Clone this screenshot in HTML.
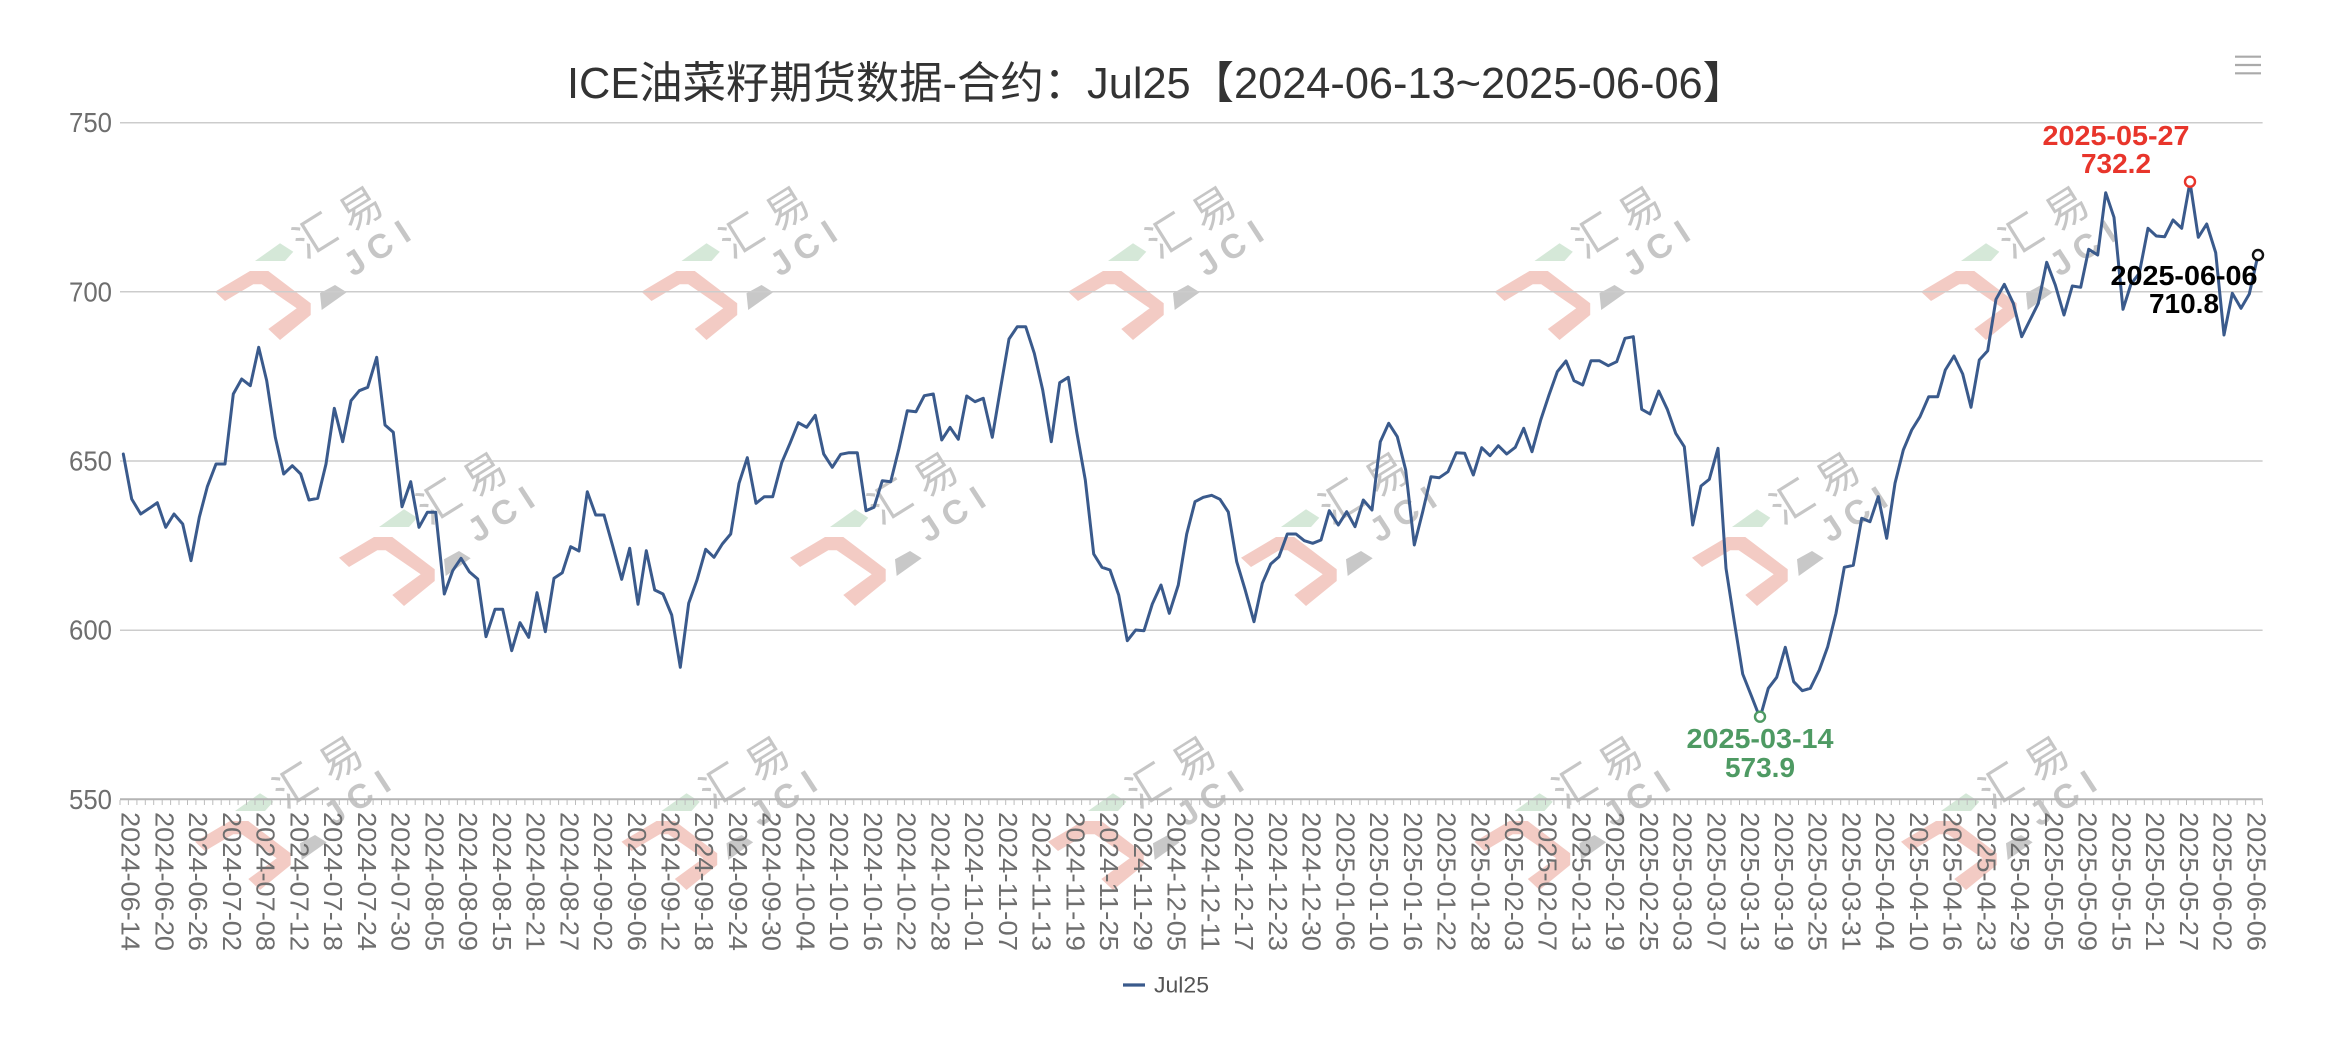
<!DOCTYPE html>
<html>
<head>
<meta charset="utf-8">
<style>
html,body{margin:0;padding:0;background:#fff;}
svg{display:block;}
.wm{font-family:"Liberation Sans","Noto Sans CJK SC",sans-serif;font-size:42px;fill:#c6c6c6;text-anchor:middle;dominant-baseline:central;}
.wj{font-family:"Liberation Sans",sans-serif;font-size:34px;font-weight:bold;fill:#c6c6c6;text-anchor:middle;dominant-baseline:central;}
.xl{font-family:"Liberation Sans",sans-serif;font-size:26px;fill:#6e6e6e;dominant-baseline:central;}
.yl{font-family:"Liberation Sans",sans-serif;font-size:28px;fill:#6e6e6e;text-anchor:end;dominant-baseline:central;}
.an{font-family:"Liberation Sans",sans-serif;font-size:28px;font-weight:bold;text-anchor:middle;}
</style>
</head>
<body>
<svg width="2344" height="1048" viewBox="0 0 2344 1048" xmlns="http://www.w3.org/2000/svg">
<rect x="0" y="0" width="2344" height="1048" fill="#ffffff"/>

<!-- watermarks -->
<g transform="translate(0,0)">
<polygon points="255,261 280,243.3 293.3,251.7 285,261" fill="#d5e8d8"/>
<polygon points="215,291.7 250,271 268.3,271 310.7,303.3 310.7,315 280,340 268.3,329 296.7,308.3 261.7,284.3 253.3,284.3 225,301" fill="#f3cbc4"/>
<polygon points="320,293.3 335,285 346.7,292.3 321.7,310" fill="#c8c8c8"/>
<text x="315" y="236" transform="rotate(-32 315 236)" class="wm">汇</text>
<text x="361" y="209" transform="rotate(-32 361 209)" class="wm">易</text>
<text x="355" y="263" transform="rotate(-33 355 263)" class="wj">J</text>
<text x="380" y="247" transform="rotate(-33 380 247)" class="wj">C</text>
<text x="403" y="232" transform="rotate(-33 403 232)" class="wj">I</text>
</g>
<g transform="translate(426.5,0)">
<polygon points="255,261 280,243.3 293.3,251.7 285,261" fill="#d5e8d8"/>
<polygon points="215,291.7 250,271 268.3,271 310.7,303.3 310.7,315 280,340 268.3,329 296.7,308.3 261.7,284.3 253.3,284.3 225,301" fill="#f3cbc4"/>
<polygon points="320,293.3 335,285 346.7,292.3 321.7,310" fill="#c8c8c8"/>
<text x="315" y="236" transform="rotate(-32 315 236)" class="wm">汇</text>
<text x="361" y="209" transform="rotate(-32 361 209)" class="wm">易</text>
<text x="355" y="263" transform="rotate(-33 355 263)" class="wj">J</text>
<text x="380" y="247" transform="rotate(-33 380 247)" class="wj">C</text>
<text x="403" y="232" transform="rotate(-33 403 232)" class="wj">I</text>
</g>
<g transform="translate(853,0)">
<polygon points="255,261 280,243.3 293.3,251.7 285,261" fill="#d5e8d8"/>
<polygon points="215,291.7 250,271 268.3,271 310.7,303.3 310.7,315 280,340 268.3,329 296.7,308.3 261.7,284.3 253.3,284.3 225,301" fill="#f3cbc4"/>
<polygon points="320,293.3 335,285 346.7,292.3 321.7,310" fill="#c8c8c8"/>
<text x="315" y="236" transform="rotate(-32 315 236)" class="wm">汇</text>
<text x="361" y="209" transform="rotate(-32 361 209)" class="wm">易</text>
<text x="355" y="263" transform="rotate(-33 355 263)" class="wj">J</text>
<text x="380" y="247" transform="rotate(-33 380 247)" class="wj">C</text>
<text x="403" y="232" transform="rotate(-33 403 232)" class="wj">I</text>
</g>
<g transform="translate(1279.5,0)">
<polygon points="255,261 280,243.3 293.3,251.7 285,261" fill="#d5e8d8"/>
<polygon points="215,291.7 250,271 268.3,271 310.7,303.3 310.7,315 280,340 268.3,329 296.7,308.3 261.7,284.3 253.3,284.3 225,301" fill="#f3cbc4"/>
<polygon points="320,293.3 335,285 346.7,292.3 321.7,310" fill="#c8c8c8"/>
<text x="315" y="236" transform="rotate(-32 315 236)" class="wm">汇</text>
<text x="361" y="209" transform="rotate(-32 361 209)" class="wm">易</text>
<text x="355" y="263" transform="rotate(-33 355 263)" class="wj">J</text>
<text x="380" y="247" transform="rotate(-33 380 247)" class="wj">C</text>
<text x="403" y="232" transform="rotate(-33 403 232)" class="wj">I</text>
</g>
<g transform="translate(1706,0)">
<polygon points="255,261 280,243.3 293.3,251.7 285,261" fill="#d5e8d8"/>
<polygon points="215,291.7 250,271 268.3,271 310.7,303.3 310.7,315 280,340 268.3,329 296.7,308.3 261.7,284.3 253.3,284.3 225,301" fill="#f3cbc4"/>
<polygon points="320,293.3 335,285 346.7,292.3 321.7,310" fill="#c8c8c8"/>
<text x="315" y="236" transform="rotate(-32 315 236)" class="wm">汇</text>
<text x="361" y="209" transform="rotate(-32 361 209)" class="wm">易</text>
<text x="355" y="263" transform="rotate(-33 355 263)" class="wj">J</text>
<text x="380" y="247" transform="rotate(-33 380 247)" class="wj">C</text>
<text x="403" y="232" transform="rotate(-33 403 232)" class="wj">I</text>
</g>
<!-- row 2 -->
<g transform="translate(124,266)">
<polygon points="255,261 280,243.3 293.3,251.7 285,261" fill="#d5e8d8"/>
<polygon points="215,291.7 250,271 268.3,271 310.7,303.3 310.7,315 280,340 268.3,329 296.7,308.3 261.7,284.3 253.3,284.3 225,301" fill="#f3cbc4"/>
<polygon points="320,293.3 335,285 346.7,292.3 321.7,310" fill="#c8c8c8"/>
<text x="315" y="236" transform="rotate(-32 315 236)" class="wm">汇</text>
<text x="361" y="209" transform="rotate(-32 361 209)" class="wm">易</text>
<text x="355" y="263" transform="rotate(-33 355 263)" class="wj">J</text>
<text x="380" y="247" transform="rotate(-33 380 247)" class="wj">C</text>
<text x="403" y="232" transform="rotate(-33 403 232)" class="wj">I</text>
</g>
<g transform="translate(575,266)">
<polygon points="255,261 280,243.3 293.3,251.7 285,261" fill="#d5e8d8"/>
<polygon points="215,291.7 250,271 268.3,271 310.7,303.3 310.7,315 280,340 268.3,329 296.7,308.3 261.7,284.3 253.3,284.3 225,301" fill="#f3cbc4"/>
<polygon points="320,293.3 335,285 346.7,292.3 321.7,310" fill="#c8c8c8"/>
<text x="315" y="236" transform="rotate(-32 315 236)" class="wm">汇</text>
<text x="361" y="209" transform="rotate(-32 361 209)" class="wm">易</text>
<text x="355" y="263" transform="rotate(-33 355 263)" class="wj">J</text>
<text x="380" y="247" transform="rotate(-33 380 247)" class="wj">C</text>
<text x="403" y="232" transform="rotate(-33 403 232)" class="wj">I</text>
</g>
<g transform="translate(1026,266)">
<polygon points="255,261 280,243.3 293.3,251.7 285,261" fill="#d5e8d8"/>
<polygon points="215,291.7 250,271 268.3,271 310.7,303.3 310.7,315 280,340 268.3,329 296.7,308.3 261.7,284.3 253.3,284.3 225,301" fill="#f3cbc4"/>
<polygon points="320,293.3 335,285 346.7,292.3 321.7,310" fill="#c8c8c8"/>
<text x="315" y="236" transform="rotate(-32 315 236)" class="wm">汇</text>
<text x="361" y="209" transform="rotate(-32 361 209)" class="wm">易</text>
<text x="355" y="263" transform="rotate(-33 355 263)" class="wj">J</text>
<text x="380" y="247" transform="rotate(-33 380 247)" class="wj">C</text>
<text x="403" y="232" transform="rotate(-33 403 232)" class="wj">I</text>
</g>
<g transform="translate(1477,266)">
<polygon points="255,261 280,243.3 293.3,251.7 285,261" fill="#d5e8d8"/>
<polygon points="215,291.7 250,271 268.3,271 310.7,303.3 310.7,315 280,340 268.3,329 296.7,308.3 261.7,284.3 253.3,284.3 225,301" fill="#f3cbc4"/>
<polygon points="320,293.3 335,285 346.7,292.3 321.7,310" fill="#c8c8c8"/>
<text x="315" y="236" transform="rotate(-32 315 236)" class="wm">汇</text>
<text x="361" y="209" transform="rotate(-32 361 209)" class="wm">易</text>
<text x="355" y="263" transform="rotate(-33 355 263)" class="wj">J</text>
<text x="380" y="247" transform="rotate(-33 380 247)" class="wj">C</text>
<text x="403" y="232" transform="rotate(-33 403 232)" class="wj">I</text>
</g>
<!-- row 3 -->
<g transform="translate(-20,550)">
<polygon points="255,261 280,243.3 293.3,251.7 285,261" fill="#d5e8d8"/>
<polygon points="215,291.7 250,271 268.3,271 310.7,303.3 310.7,315 280,340 268.3,329 296.7,308.3 261.7,284.3 253.3,284.3 225,301" fill="#f3cbc4"/>
<polygon points="320,293.3 335,285 346.7,292.3 321.7,310" fill="#c8c8c8"/>
<text x="315" y="236" transform="rotate(-32 315 236)" class="wm">汇</text>
<text x="361" y="209" transform="rotate(-32 361 209)" class="wm">易</text>
<text x="355" y="263" transform="rotate(-33 355 263)" class="wj">J</text>
<text x="380" y="247" transform="rotate(-33 380 247)" class="wj">C</text>
<text x="403" y="232" transform="rotate(-33 403 232)" class="wj">I</text>
</g>
<g transform="translate(406.5,550)">
<polygon points="255,261 280,243.3 293.3,251.7 285,261" fill="#d5e8d8"/>
<polygon points="215,291.7 250,271 268.3,271 310.7,303.3 310.7,315 280,340 268.3,329 296.7,308.3 261.7,284.3 253.3,284.3 225,301" fill="#f3cbc4"/>
<polygon points="320,293.3 335,285 346.7,292.3 321.7,310" fill="#c8c8c8"/>
<text x="315" y="236" transform="rotate(-32 315 236)" class="wm">汇</text>
<text x="361" y="209" transform="rotate(-32 361 209)" class="wm">易</text>
<text x="355" y="263" transform="rotate(-33 355 263)" class="wj">J</text>
<text x="380" y="247" transform="rotate(-33 380 247)" class="wj">C</text>
<text x="403" y="232" transform="rotate(-33 403 232)" class="wj">I</text>
</g>
<g transform="translate(833,550)">
<polygon points="255,261 280,243.3 293.3,251.7 285,261" fill="#d5e8d8"/>
<polygon points="215,291.7 250,271 268.3,271 310.7,303.3 310.7,315 280,340 268.3,329 296.7,308.3 261.7,284.3 253.3,284.3 225,301" fill="#f3cbc4"/>
<polygon points="320,293.3 335,285 346.7,292.3 321.7,310" fill="#c8c8c8"/>
<text x="315" y="236" transform="rotate(-32 315 236)" class="wm">汇</text>
<text x="361" y="209" transform="rotate(-32 361 209)" class="wm">易</text>
<text x="355" y="263" transform="rotate(-33 355 263)" class="wj">J</text>
<text x="380" y="247" transform="rotate(-33 380 247)" class="wj">C</text>
<text x="403" y="232" transform="rotate(-33 403 232)" class="wj">I</text>
</g>
<g transform="translate(1259.5,550)">
<polygon points="255,261 280,243.3 293.3,251.7 285,261" fill="#d5e8d8"/>
<polygon points="215,291.7 250,271 268.3,271 310.7,303.3 310.7,315 280,340 268.3,329 296.7,308.3 261.7,284.3 253.3,284.3 225,301" fill="#f3cbc4"/>
<polygon points="320,293.3 335,285 346.7,292.3 321.7,310" fill="#c8c8c8"/>
<text x="315" y="236" transform="rotate(-32 315 236)" class="wm">汇</text>
<text x="361" y="209" transform="rotate(-32 361 209)" class="wm">易</text>
<text x="355" y="263" transform="rotate(-33 355 263)" class="wj">J</text>
<text x="380" y="247" transform="rotate(-33 380 247)" class="wj">C</text>
<text x="403" y="232" transform="rotate(-33 403 232)" class="wj">I</text>
</g>
<g transform="translate(1686,550)">
<polygon points="255,261 280,243.3 293.3,251.7 285,261" fill="#d5e8d8"/>
<polygon points="215,291.7 250,271 268.3,271 310.7,303.3 310.7,315 280,340 268.3,329 296.7,308.3 261.7,284.3 253.3,284.3 225,301" fill="#f3cbc4"/>
<polygon points="320,293.3 335,285 346.7,292.3 321.7,310" fill="#c8c8c8"/>
<text x="315" y="236" transform="rotate(-32 315 236)" class="wm">汇</text>
<text x="361" y="209" transform="rotate(-32 361 209)" class="wm">易</text>
<text x="355" y="263" transform="rotate(-33 355 263)" class="wj">J</text>
<text x="380" y="247" transform="rotate(-33 380 247)" class="wj">C</text>
<text x="403" y="232" transform="rotate(-33 403 232)" class="wj">I</text>
</g>

<!-- grid lines -->
<g stroke="#cccccc" stroke-width="1.5">
<line x1="120" y1="122.7" x2="2262.6" y2="122.7"/>
<line x1="120" y1="291.8" x2="2262.6" y2="291.8"/>
<line x1="120" y1="461" x2="2262.6" y2="461"/>
<line x1="120" y1="630.2" x2="2262.6" y2="630.2"/>
</g>
<!-- x axis -->
<line x1="120" y1="799.3" x2="2262.6" y2="799.3" stroke="#b4b4b4" stroke-width="2"/>
<path stroke="#bdbdbd" stroke-width="1" fill="none" d="M120,800v5M128.4,800v5M136.9,800v5M145.3,800v5M153.7,800v5M162.2,800v5M170.6,800v5M179,800v5M187.5,800v5M195.9,800v5M204.4,800v5M212.8,800v5M221.2,800v5M229.7,800v5M238.1,800v5M246.5,800v5M255,800v5M263.4,800v5M271.8,800v5M280.3,800v5M288.7,800v5M297.1,800v5M305.6,800v5M314,800v5M322.4,800v5M330.9,800v5M339.3,800v5M347.7,800v5M356.2,800v5M364.6,800v5M373.1,800v5M381.5,800v5M389.9,800v5M398.4,800v5M406.8,800v5M415.2,800v5M423.7,800v5M432.1,800v5M440.5,800v5M449,800v5M457.4,800v5M465.8,800v5M474.3,800v5M482.7,800v5M491.1,800v5M499.6,800v5M508,800v5M516.4,800v5M524.9,800v5M533.3,800v5M541.7,800v5M550.2,800v5M558.6,800v5M567.1,800v5M575.5,800v5M583.9,800v5M592.4,800v5M600.8,800v5M609.2,800v5M617.7,800v5M626.1,800v5M634.5,800v5M643,800v5M651.4,800v5M659.8,800v5M668.3,800v5M676.7,800v5M685.1,800v5M693.6,800v5M702,800v5M710.4,800v5M718.9,800v5M727.3,800v5M735.7,800v5M744.2,800v5M752.6,800v5M761.1,800v5M769.5,800v5M777.9,800v5M786.4,800v5M794.8,800v5M803.2,800v5M811.7,800v5M820.1,800v5M828.5,800v5M837,800v5M845.4,800v5M853.8,800v5M862.3,800v5M870.7,800v5M879.1,800v5M887.6,800v5M896,800v5M904.4,800v5M912.9,800v5M921.3,800v5M929.7,800v5M938.2,800v5M946.6,800v5M955,800v5M963.5,800v5M971.9,800v5M980.4,800v5M988.8,800v5M997.2,800v5M1005.7,800v5M1014.1,800v5M1022.5,800v5M1031,800v5M1039.4,800v5M1047.8,800v5M1056.3,800v5M1064.7,800v5M1073.1,800v5M1081.6,800v5M1090,800v5M1098.4,800v5M1106.9,800v5M1115.3,800v5M1123.7,800v5M1132.2,800v5M1140.6,800v5M1149,800v5M1157.5,800v5M1165.9,800v5M1174.4,800v5M1182.8,800v5M1191.2,800v5M1199.7,800v5M1208.1,800v5M1216.5,800v5M1225,800v5M1233.4,800v5M1241.8,800v5M1250.3,800v5M1258.7,800v5M1267.1,800v5M1275.6,800v5M1284,800v5M1292.4,800v5M1300.9,800v5M1309.3,800v5M1317.7,800v5M1326.2,800v5M1334.6,800v5M1343,800v5M1351.5,800v5M1359.9,800v5M1368.4,800v5M1376.8,800v5M1385.2,800v5M1393.7,800v5M1402.1,800v5M1410.5,800v5M1419,800v5M1427.4,800v5M1435.8,800v5M1444.3,800v5M1452.7,800v5M1461.1,800v5M1469.6,800v5M1478,800v5M1486.4,800v5M1494.9,800v5M1503.3,800v5M1511.7,800v5M1520.2,800v5M1528.6,800v5M1537,800v5M1545.5,800v5M1553.9,800v5M1562.3,800v5M1570.8,800v5M1579.2,800v5M1587.7,800v5M1596.1,800v5M1604.5,800v5M1613,800v5M1621.4,800v5M1629.8,800v5M1638.3,800v5M1646.7,800v5M1655.1,800v5M1663.6,800v5M1672,800v5M1680.4,800v5M1688.9,800v5M1697.3,800v5M1705.7,800v5M1714.2,800v5M1722.6,800v5M1731,800v5M1739.5,800v5M1747.9,800v5M1756.3,800v5M1764.8,800v5M1773.2,800v5M1781.7,800v5M1790.1,800v5M1798.5,800v5M1807,800v5M1815.4,800v5M1823.8,800v5M1832.3,800v5M1840.7,800v5M1849.1,800v5M1857.6,800v5M1866,800v5M1874.4,800v5M1882.9,800v5M1891.3,800v5M1899.7,800v5M1908.2,800v5M1916.6,800v5M1925,800v5M1933.5,800v5M1941.9,800v5M1950.3,800v5M1958.8,800v5M1967.2,800v5M1975.7,800v5M1984.1,800v5M1992.5,800v5M2001,800v5M2009.4,800v5M2017.8,800v5M2026.3,800v5M2034.7,800v5M2043.1,800v5M2051.6,800v5M2060,800v5M2068.4,800v5M2076.9,800v5M2085.3,800v5M2093.7,800v5M2102.2,800v5M2110.6,800v5M2119,800v5M2127.5,800v5M2135.9,800v5M2144.3,800v5M2152.8,800v5M2161.2,800v5M2169.7,800v5M2178.1,800v5M2186.5,800v5M2195,800v5M2203.4,800v5M2211.8,800v5M2220.3,800v5M2228.7,800v5M2237.1,800v5M2245.6,800v5M2254,800v5M2262.4,800v5"/>

<!-- y labels -->
<text class="yl" x="112" y="122.7" textLength="43" lengthAdjust="spacingAndGlyphs">750</text>
<text class="yl" x="112" y="291.8" textLength="43" lengthAdjust="spacingAndGlyphs">700</text>
<text class="yl" x="112" y="461" textLength="43" lengthAdjust="spacingAndGlyphs">650</text>
<text class="yl" x="112" y="630.2" textLength="43" lengthAdjust="spacingAndGlyphs">600</text>
<text class="yl" x="112" y="799.3" textLength="43" lengthAdjust="spacingAndGlyphs">550</text>

<!-- x labels -->
<g>
<text class="xl" transform="translate(130.65,812) rotate(90)" textLength="139" lengthAdjust="spacingAndGlyphs">2024-06-14</text>
<text class="xl" transform="translate(164.39,812) rotate(90)" textLength="139" lengthAdjust="spacingAndGlyphs">2024-06-20</text>
<text class="xl" transform="translate(198.13,812) rotate(90)" textLength="139" lengthAdjust="spacingAndGlyphs">2024-06-26</text>
<text class="xl" transform="translate(231.87,812) rotate(90)" textLength="139" lengthAdjust="spacingAndGlyphs">2024-07-02</text>
<text class="xl" transform="translate(265.61,812) rotate(90)" textLength="139" lengthAdjust="spacingAndGlyphs">2024-07-08</text>
<text class="xl" transform="translate(299.35,812) rotate(90)" textLength="139" lengthAdjust="spacingAndGlyphs">2024-07-12</text>
<text class="xl" transform="translate(333.09,812) rotate(90)" textLength="139" lengthAdjust="spacingAndGlyphs">2024-07-18</text>
<text class="xl" transform="translate(366.83,812) rotate(90)" textLength="139" lengthAdjust="spacingAndGlyphs">2024-07-24</text>
<text class="xl" transform="translate(400.57,812) rotate(90)" textLength="139" lengthAdjust="spacingAndGlyphs">2024-07-30</text>
<text class="xl" transform="translate(434.31,812) rotate(90)" textLength="139" lengthAdjust="spacingAndGlyphs">2024-08-05</text>
<text class="xl" transform="translate(468.05,812) rotate(90)" textLength="139" lengthAdjust="spacingAndGlyphs">2024-08-09</text>
<text class="xl" transform="translate(501.79,812) rotate(90)" textLength="139" lengthAdjust="spacingAndGlyphs">2024-08-15</text>
<text class="xl" transform="translate(535.53,812) rotate(90)" textLength="139" lengthAdjust="spacingAndGlyphs">2024-08-21</text>
<text class="xl" transform="translate(569.27,812) rotate(90)" textLength="139" lengthAdjust="spacingAndGlyphs">2024-08-27</text>
<text class="xl" transform="translate(603.01,812) rotate(90)" textLength="139" lengthAdjust="spacingAndGlyphs">2024-09-02</text>
<text class="xl" transform="translate(636.75,812) rotate(90)" textLength="139" lengthAdjust="spacingAndGlyphs">2024-09-06</text>
<text class="xl" transform="translate(670.49,812) rotate(90)" textLength="139" lengthAdjust="spacingAndGlyphs">2024-09-12</text>
<text class="xl" transform="translate(704.23,812) rotate(90)" textLength="139" lengthAdjust="spacingAndGlyphs">2024-09-18</text>
<text class="xl" transform="translate(737.97,812) rotate(90)" textLength="139" lengthAdjust="spacingAndGlyphs">2024-09-24</text>
<text class="xl" transform="translate(771.71,812) rotate(90)" textLength="139" lengthAdjust="spacingAndGlyphs">2024-09-30</text>
<text class="xl" transform="translate(805.45,812) rotate(90)" textLength="139" lengthAdjust="spacingAndGlyphs">2024-10-04</text>
<text class="xl" transform="translate(839.19,812) rotate(90)" textLength="139" lengthAdjust="spacingAndGlyphs">2024-10-10</text>
<text class="xl" transform="translate(872.93,812) rotate(90)" textLength="139" lengthAdjust="spacingAndGlyphs">2024-10-16</text>
<text class="xl" transform="translate(906.67,812) rotate(90)" textLength="139" lengthAdjust="spacingAndGlyphs">2024-10-22</text>
<text class="xl" transform="translate(940.41,812) rotate(90)" textLength="139" lengthAdjust="spacingAndGlyphs">2024-10-28</text>
<text class="xl" transform="translate(974.15,812) rotate(90)" textLength="139" lengthAdjust="spacingAndGlyphs">2024-11-01</text>
<text class="xl" transform="translate(1007.89,812) rotate(90)" textLength="139" lengthAdjust="spacingAndGlyphs">2024-11-07</text>
<text class="xl" transform="translate(1041.63,812) rotate(90)" textLength="139" lengthAdjust="spacingAndGlyphs">2024-11-13</text>
<text class="xl" transform="translate(1075.37,812) rotate(90)" textLength="139" lengthAdjust="spacingAndGlyphs">2024-11-19</text>
<text class="xl" transform="translate(1109.11,812) rotate(90)" textLength="139" lengthAdjust="spacingAndGlyphs">2024-11-25</text>
<text class="xl" transform="translate(1142.85,812) rotate(90)" textLength="139" lengthAdjust="spacingAndGlyphs">2024-11-29</text>
<text class="xl" transform="translate(1176.59,812) rotate(90)" textLength="139" lengthAdjust="spacingAndGlyphs">2024-12-05</text>
<text class="xl" transform="translate(1210.33,812) rotate(90)" textLength="139" lengthAdjust="spacingAndGlyphs">2024-12-11</text>
<text class="xl" transform="translate(1244.07,812) rotate(90)" textLength="139" lengthAdjust="spacingAndGlyphs">2024-12-17</text>
<text class="xl" transform="translate(1277.81,812) rotate(90)" textLength="139" lengthAdjust="spacingAndGlyphs">2024-12-23</text>
<text class="xl" transform="translate(1311.55,812) rotate(90)" textLength="139" lengthAdjust="spacingAndGlyphs">2024-12-30</text>
<text class="xl" transform="translate(1345.29,812) rotate(90)" textLength="139" lengthAdjust="spacingAndGlyphs">2025-01-06</text>
<text class="xl" transform="translate(1379.03,812) rotate(90)" textLength="139" lengthAdjust="spacingAndGlyphs">2025-01-10</text>
<text class="xl" transform="translate(1412.77,812) rotate(90)" textLength="139" lengthAdjust="spacingAndGlyphs">2025-01-16</text>
<text class="xl" transform="translate(1446.51,812) rotate(90)" textLength="139" lengthAdjust="spacingAndGlyphs">2025-01-22</text>
<text class="xl" transform="translate(1480.25,812) rotate(90)" textLength="139" lengthAdjust="spacingAndGlyphs">2025-01-28</text>
<text class="xl" transform="translate(1513.99,812) rotate(90)" textLength="139" lengthAdjust="spacingAndGlyphs">2025-02-03</text>
<text class="xl" transform="translate(1547.73,812) rotate(90)" textLength="139" lengthAdjust="spacingAndGlyphs">2025-02-07</text>
<text class="xl" transform="translate(1581.47,812) rotate(90)" textLength="139" lengthAdjust="spacingAndGlyphs">2025-02-13</text>
<text class="xl" transform="translate(1615.21,812) rotate(90)" textLength="139" lengthAdjust="spacingAndGlyphs">2025-02-19</text>
<text class="xl" transform="translate(1648.95,812) rotate(90)" textLength="139" lengthAdjust="spacingAndGlyphs">2025-02-25</text>
<text class="xl" transform="translate(1682.69,812) rotate(90)" textLength="139" lengthAdjust="spacingAndGlyphs">2025-03-03</text>
<text class="xl" transform="translate(1716.43,812) rotate(90)" textLength="139" lengthAdjust="spacingAndGlyphs">2025-03-07</text>
<text class="xl" transform="translate(1750.17,812) rotate(90)" textLength="139" lengthAdjust="spacingAndGlyphs">2025-03-13</text>
<text class="xl" transform="translate(1783.91,812) rotate(90)" textLength="139" lengthAdjust="spacingAndGlyphs">2025-03-19</text>
<text class="xl" transform="translate(1817.65,812) rotate(90)" textLength="139" lengthAdjust="spacingAndGlyphs">2025-03-25</text>
<text class="xl" transform="translate(1851.39,812) rotate(90)" textLength="139" lengthAdjust="spacingAndGlyphs">2025-03-31</text>
<text class="xl" transform="translate(1885.13,812) rotate(90)" textLength="139" lengthAdjust="spacingAndGlyphs">2025-04-04</text>
<text class="xl" transform="translate(1918.87,812) rotate(90)" textLength="139" lengthAdjust="spacingAndGlyphs">2025-04-10</text>
<text class="xl" transform="translate(1952.61,812) rotate(90)" textLength="139" lengthAdjust="spacingAndGlyphs">2025-04-16</text>
<text class="xl" transform="translate(1986.35,812) rotate(90)" textLength="139" lengthAdjust="spacingAndGlyphs">2025-04-23</text>
<text class="xl" transform="translate(2020.09,812) rotate(90)" textLength="139" lengthAdjust="spacingAndGlyphs">2025-04-29</text>
<text class="xl" transform="translate(2053.83,812) rotate(90)" textLength="139" lengthAdjust="spacingAndGlyphs">2025-05-05</text>
<text class="xl" transform="translate(2087.57,812) rotate(90)" textLength="139" lengthAdjust="spacingAndGlyphs">2025-05-09</text>
<text class="xl" transform="translate(2121.31,812) rotate(90)" textLength="139" lengthAdjust="spacingAndGlyphs">2025-05-15</text>
<text class="xl" transform="translate(2155.05,812) rotate(90)" textLength="139" lengthAdjust="spacingAndGlyphs">2025-05-21</text>
<text class="xl" transform="translate(2188.79,812) rotate(90)" textLength="139" lengthAdjust="spacingAndGlyphs">2025-05-27</text>
<text class="xl" transform="translate(2222.53,812) rotate(90)" textLength="139" lengthAdjust="spacingAndGlyphs">2025-06-02</text>
<text class="xl" transform="translate(2256.27,812) rotate(90)" textLength="139" lengthAdjust="spacingAndGlyphs">2025-06-06</text>
</g>

<!-- series -->
<polyline fill="none" stroke="#3a5a8c" stroke-width="3" stroke-linejoin="round" stroke-linecap="round" points="
123.3,454 131.7,499 140.7,514 149.3,508.3 157.3,502.7 165.7,527.3 174,514 182.7,524 191,560.7 199.3,517.3
207.3,486.7 216,464 225,464 233.3,394 241.7,379 250.3,385.7 258.7,347.3 266.7,380.7 275.3,437.3 283.7,474
292.3,465.7 300.7,474 309,500 317.7,498.3 326,464 334.3,408.3 342.7,441.7 351,400.7 359.3,390.7 367.7,387.3
376.7,357.3 385,425 393.3,432.3 402,506.7 410.7,481.7 419,527.3 427.3,512.3 435.7,512.3 444.3,594 452.7,570.7
461,558.3 469.3,571.7 477.7,579 486,636.7
495,609.3 502.7,609.3 511.7,650.7 520,622.7 528.7,637.3 537,592.7 545.3,631.7 554,578.3 562.3,572.7 570.7,546.7
579,551 587.3,491.7 595.7,515 604,515 612.7,546 621.7,579.3 629.7,548.3 638,604.3 646.3,550.7 654.7,590
663,594 671.7,615 680.3,667.3 688.7,603.3 697,580 705.7,549.3 714,557.3 722.3,544 730.7,534 739,483.3
747.3,457.7 756,503.3 764.3,496.7 772.7,496.7 781.7,462.7 790,443.3 798.3,422.7 806.7,427.3 815.3,415.3 823.7,454
832.3,467.3 840.7,454.3 849,452.7 857.3,452.7
866,510.7 874,507.3 882.3,480.7 890.7,481.7 899,448.3 907.3,410.7 916,411.7 924.3,395.7 933.3,394 941.7,440
950,427.3 958.3,439.3 966.7,396 975,401.7 983.3,398.3 992.3,437.3 1000.7,387.3 1009,339 1017.3,326.7 1025.7,326.7
1034.3,353.3 1042.7,390 1051.3,441.7 1059.7,382.7 1068.3,377.3 1076.7,431.7 1085.3,480 1093.7,554 1102,567.3 1110,570
1118.7,595 1127.3,640.7 1135.7,630 1144,630.7 1152.3,604 1161,585 1169.3,613.3 1178.3,585 1186.7,534 1195,501.7
1203.3,497.3 1211.7,495.3 1220,499.3 1228.3,512
1236.7,561.7 1245,589.3 1254,621.7 1262.3,583.3 1270.7,564 1279,556.7 1287.3,534 1296,534 1304.3,540.7 1312.7,543.3
1321,540 1329.3,510.7 1338.3,525 1346.7,511.7 1355,526.7 1363.3,500 1372,510 1380.3,441.7 1388.7,423.3 1397.3,436.7
1405.7,470 1414.3,545 1422.7,511.7 1431,476.7 1439.3,477.7 1448,471.7 1456.3,452.7 1464.7,453.3 1473.3,475 1481.7,447.7
1490,455.7 1498.3,445.7 1506.7,454 1515.3,447.3 1523.7,428.3 1532,451.7 1540.7,420 1549,395 1557.3,371.7 1566,361
1574,380.7 1582.7,385 1591,360.7 1599.3,360.7
1608.3,365.7 1616.7,361.7 1625,338.3 1633.3,336.7 1641.7,409.3 1650,414 1658.7,391 1667.3,409.3 1675.7,433.3 1684.3,446.7
1692.7,525 1701,486 1709.3,479.3 1718,448.3 1726,568.3 1734.3,621.7 1742.7,674 1751.7,696.7 1760,718 1768.3,688.3
1776.7,677.3 1785.3,647.3 1793.7,681.7 1802.3,690.7 1810.3,688.3 1819.3,670 1827.7,646.7 1836,613.3 1844.3,567.3 1853.3,565.3
1861.7,518.3 1870,521.7 1878.3,496.7 1886.7,538.3 1895,483.3 1903.3,450 1911.7,430 1920,416.7 1928.7,396.7 1937.7,396.7
1945.3,370 1954,356
1962.7,374 1971,407.3 1979.3,360 1987.7,350.7 1996,299.3 2004.3,284.3 2013.3,303.3 2021.7,336.7 2030,320 2038.3,303.3
2046.7,262.3 2055.3,285 2064,315 2072.3,286 2080.7,287.3 2088.7,249.3 2097.7,255 2105.7,192.7 2114,217.3 2123,309.3
2131,284 2139.3,273.3 2148,228.3 2156.3,236 2164.7,236.7 2173,220 2181.7,228.3 2190,182 2198.3,237.3 2206.7,224
2215.7,252.7 2224,335 2232.3,293.3 2241,308.3 2249.3,294 2258,255"/>

<!-- markers -->
<circle cx="2190" cy="181.7" r="5" fill="#ffffff" stroke="#e8352b" stroke-width="2.4"/>
<circle cx="1760" cy="716.7" r="5" fill="#ffffff" stroke="#4e9a63" stroke-width="2.4"/>
<circle cx="2258" cy="255" r="5" fill="#ffffff" stroke="#111111" stroke-width="2.4"/>

<!-- annotation labels -->
<text class="an" x="2116" y="145" fill="#e8352b" textLength="147" lengthAdjust="spacingAndGlyphs">2025-05-27</text>
<text class="an" x="2116" y="173" fill="#e8352b">732.2</text>
<text class="an" x="1760" y="748" fill="#4e9a63" textLength="147" lengthAdjust="spacingAndGlyphs">2025-03-14</text>
<text class="an" x="1760" y="777" fill="#4e9a63">573.9</text>
<text class="an" x="2184" y="285" fill="#000000" textLength="147" lengthAdjust="spacingAndGlyphs">2025-06-06</text>
<text class="an" x="2184" y="313" fill="#000000">710.8</text>

<!-- legend -->
<line x1="1123" y1="985" x2="1145" y2="985" stroke="#3a5a8c" stroke-width="3.3"/>
<text x="1154" y="992.7" font-family="Liberation Sans, sans-serif" font-size="22.5" fill="#555555" textLength="55" lengthAdjust="spacingAndGlyphs">Jul25</text>

<!-- title -->
<text x="1156.5" y="98" text-anchor="middle" font-family="Liberation Sans, Noto Sans CJK SC, sans-serif" font-size="44" fill="#333333" textLength="1179" lengthAdjust="spacingAndGlyphs">ICE油菜籽期货数据-合约：Jul25【2024-06-13~2025-06-06】</text>

<!-- toolbox menu icon -->
<g stroke="#aaaaaa" stroke-width="2.2">
<line x1="2235" y1="56.7" x2="2261" y2="56.7"/>
<line x1="2235" y1="65" x2="2261" y2="65"/>
<line x1="2235" y1="73.3" x2="2261" y2="73.3"/>
</g>
</svg>
</body>
</html>
